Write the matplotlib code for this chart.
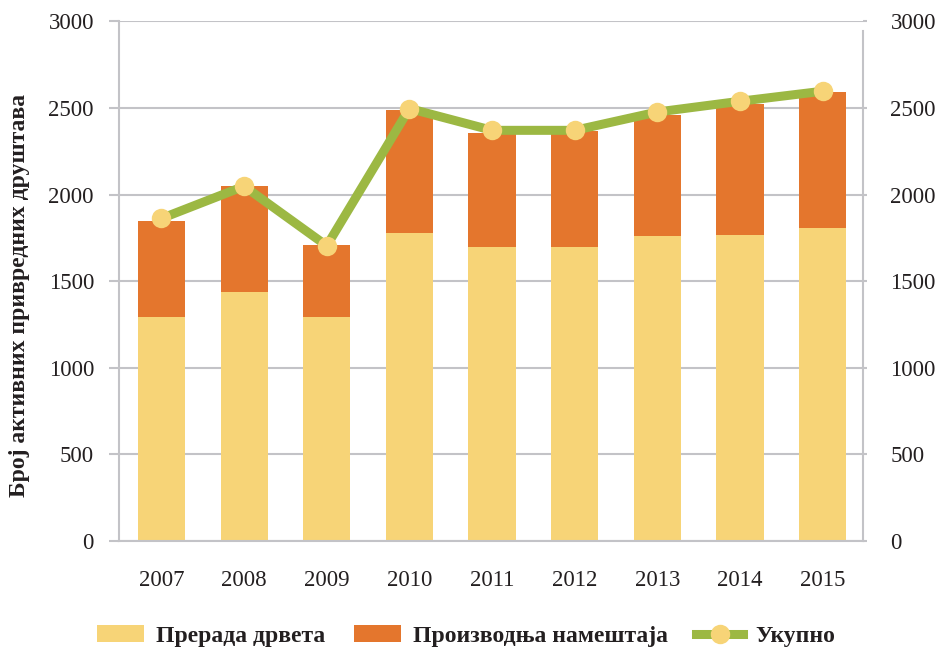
import matplotlib
matplotlib.use("Agg")
import matplotlib.pyplot as plt
from matplotlib.patches import Patch
from matplotlib.lines import Line2D

plt.rcParams['font.family'] = ['Liberation Serif', 'DejaVu Serif']

godine = ['2007', '2008', '2009', '2010', '2011', '2012', '2013', '2014', '2015']
prerada_drveta = [1295, 1435, 1295, 1780, 1698, 1697, 1760, 1766, 1804]
proizvodnja_namestaja = [551, 613, 413, 711, 658, 669, 698, 759, 787]
ukupno = [1862, 2048, 1704, 2497, 2371, 2371, 2477, 2539, 2597]

c_drvo = '#f7d477'
c_namestaj = '#e4762d'
c_ukupno = '#9cb843'
c_grid = '#c3c3c7'
c_text = '#231f20'

fig = plt.figure(figsize=(9.39, 6.49), dpi=100)
ax = fig.add_axes([0.1267, 0.1669, 0.7920, 0.8000])

x = list(range(len(godine)))
ax.bar(x, prerada_drveta, width=0.57, color=c_drvo, zorder=2)
ax.bar(x, proizvodnja_namestaja, width=0.57, bottom=prerada_drveta,
       color=c_namestaj, zorder=2)
ax.plot(x, ukupno, color=c_ukupno, lw=6.5, marker='o', markersize=14,
        markerfacecolor=c_drvo, markeredgewidth=0, zorder=3)

ax.set_xlim(-0.514, 8.484)
ax.set_ylim(0, 3000)
ax.set_yticks(range(0, 3001, 500))
ax.set_xticks(x)
ax.set_xticklabels(godine)
ax.grid(axis='y', color=c_grid, lw=1.5, zorder=0)
ax.set_axisbelow(True)

for s in ['top']:
    ax.spines[s].set_visible(False)
for s in ['left', 'right', 'bottom']:
    ax.spines[s].set_color(c_grid)
    ax.spines[s].set_linewidth(1.5)
ax.spines['right'].set_bounds(0, 2945)

ax.tick_params(axis='y', length=7, width=1.5, color=c_grid, pad=11,
               labelsize=16.5, labelcolor=c_text)
ax.tick_params(axis='x', length=0, pad=21, labelsize=16.5, labelcolor=c_text)

ax2 = ax.twinx()
ax2.set_ylim(0, 3000)
ax2.set_yticks(range(0, 3001, 500))
for s in ['top', 'left', 'bottom', 'right']:
    ax2.spines[s].set_visible(False)
ax2.tick_params(axis='y', length=3, width=1.5, color=c_grid, pad=17,
                labelsize=16.5, labelcolor=c_text)

fig.text(20 / 939, 1 - 295 / 649, 'Број активних привредних друштава',
         rotation=90, ha='center', va='center', fontsize=17,
         fontweight='bold', color=c_text)

handles = [
    Patch(facecolor=c_drvo, edgecolor='none', label='Прерада дрвета'),
    Patch(facecolor=c_namestaj, edgecolor='none', label='Производња намештаја'),
    Line2D([], [], color=c_ukupno, lw=6.5, marker='o', markersize=14,
           markerfacecolor=c_drvo, markeredgewidth=0, label='Укупно'),
]
leg = fig.legend(handles=handles, loc='center', bbox_to_anchor=(466 / 939, 1 - 636 / 649),
                 ncol=3, frameon=False, handlelength=2.0, handleheight=0.75,
                 handletextpad=0.5, columnspacing=1.2,
                 prop={'size': 17, 'weight': 'bold'})
for t in leg.get_texts():
    t.set_color(c_text)

fig.savefig('out.png', dpi=100)
